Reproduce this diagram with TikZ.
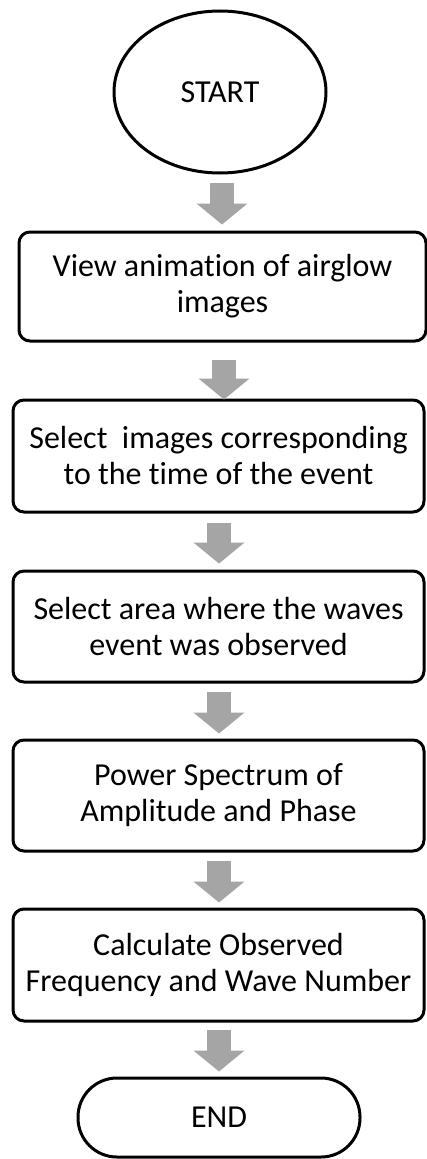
\documentclass[tikz,border=0pt]{standalone}
\usepackage{fontspec}
\setmainfont[Ligatures=NoCommon]{Carlito}
\usetikzlibrary{shapes.geometric,arrows.meta,calc}
\definecolor{arrowgray}{HTML}{A5A5A5}
\tikzset{
  txt/.style={font=\fontsize{32}{36}\selectfont, align=center, text=black},
  terminal/.style={txt, draw=black, line width=3pt, ellipse, inner sep=0pt},
  stepbox/.style={txt, draw=black, line width=3pt, rectangle, rounded corners=11pt, inner sep=0pt},
  endbox/.style={txt, draw=black, line width=3pt, rectangle, rounded corners=39pt, inner sep=0pt},
  blk/.style={draw=arrowgray, line width=24pt, -{Triangle[width=50pt,length=21pt,fill=arrowgray]}}
}
\begin{document}
\begin{tikzpicture}[x=1pt,y=1pt]
  \useasboundingbox (0,0) rectangle (427,-1159);

  % process nodes
  \node[terminal, minimum width=212pt, minimum height=162pt] (start) at (220,-92) {START};
  \node[stepbox, minimum width=407pt, minimum height=109pt] (box1) at (222.5,-286.5)
    {View animation of airglow\\images};
  \node[stepbox, minimum width=411pt, minimum height=112pt] (box2) at (218.5,-456)
    {Select\ \ images corresponding\\to the time of the event};
  \node[stepbox, minimum width=411pt, minimum height=111pt] (box3) at (218.5,-626.5)
    {Select area where the waves\\event was observed};
  \node[stepbox, minimum width=411pt, minimum height=111pt] (box4) at (218.5,-795.5)
    {Power Spectrum of\\Amplitude and Phase};
  \node[stepbox, minimum width=411pt, minimum height=112pt] (box5) at (218.5,-965)
    {Calculate Observed\\Frequency and Wave Number};
  \node[endbox, minimum width=282pt, minimum height=79pt] (end) at (219,-1117.5) {END};

  % block arrows between the steps
  \draw[blk] ([xshift=2pt,yshift=-8pt]start.south) -- ++(0,-42);
  \draw[blk] ([xshift=1.5pt,yshift=-17pt]box1.south) -- ++(0,-40);
  \draw[blk] ([xshift=0.5pt,yshift=-9pt]box2.south) -- ++(0,-41);
  \draw[blk] ([xshift=0.5pt,yshift=-8pt]box3.south) -- ++(0,-42);
  \draw[blk] ([xshift=0.5pt,yshift=-8pt]box4.south) -- ++(0,-42);
  \draw[blk] ([xshift=0.5pt,yshift=-7pt]box5.south) -- ++(0,-42);
\end{tikzpicture}
\end{document}
